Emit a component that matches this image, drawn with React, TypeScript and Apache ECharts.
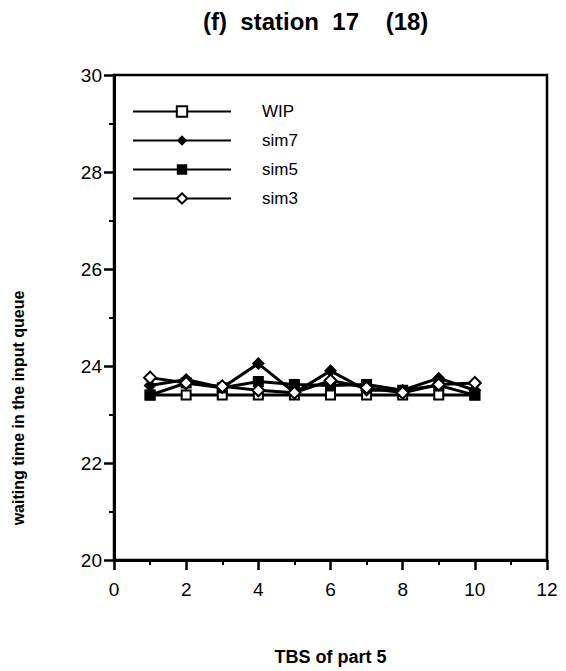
import React, { useEffect, useRef } from "react";
import * as echarts from "echarts";

const xValues = [1, 2, 3, 4, 5, 6, 7, 8, 9, 10];
const wip = [23.4, 23.4, 23.4, 23.4, 23.4, 23.4, 23.4, 23.4, 23.4, 23.4];
const sim7 = [23.6, 23.72, 23.55, 24.05, 23.45, 23.9, 23.5, 23.5, 23.75, 23.5];
const sim5 = [23.4, 23.65, 23.55, 23.68, 23.62, 23.6, 23.62, 23.5, 23.6, 23.4];
const sim3 = [23.76, 23.65, 23.58, 23.5, 23.45, 23.7, 23.55, 23.45, 23.62, 23.65];
const seriesNames = ["WIP", "sim7", "sim5", "sim3"];

const titleText = "(f)  station  17    (18)";
const xName = "TBS of part 5";
const yName = "waiting time in the input queue";

const pair = (ys: number[]) => xValues.map((x, i) => [x, ys[i]]);

export default function App() {
  const ref = useRef<HTMLDivElement>(null);
  useEffect(() => {
    document.body.style.margin = "0";
    const chart = echarts.init(ref.current!, undefined, { renderer: "svg" });
    const font = "'Liberation Sans', Arial, sans-serif";
    const lineStyle = { color: "#000", width: 3 };
    const mk = (name: string, data: number[], symbol: string, size: number, open: boolean, z: number) => ({
      name,
      type: "line",
      data: pair(data),
      symbol,
      symbolSize: size,
      showSymbol: true,
      lineStyle,
      z,
      itemStyle: {
        color: open ? "#fff" : "#000",
        borderColor: "#000",
        borderWidth: open ? 2 : 0,
      },
    });
    chart.setOption({
      animation: false,
      backgroundColor: "#fff",
      grid: {
        left: 114,
        right: 19,
        top: 75,
        bottom: 109,
        show: true,
        borderColor: "#000",
        borderWidth: 2.5,
      },
      legend: {
        left: 127,
        top: 98,
        orient: "vertical",
        itemWidth: 98,
        itemHeight: 13,
        itemGap: 12,
        data: seriesNames,
        textStyle: {
          fontFamily: font,
          fontSize: 17,
          color: "#000",
          padding: [0, 0, 0, 26],
        },
      },
      xAxis: {
        type: "value",
        min: 0,
        max: 12,
        interval: 2,
        name: xName,
        nameLocation: "middle",
        nameGap: 88,
        nameTextStyle: { fontFamily: font, fontSize: 18, fontWeight: "bold", color: "#000" },
        axisLine: { lineStyle: { color: "#000", width: 3 } },
        axisTick: { inside: false, length: 10, lineStyle: { color: "#000", width: 2.5 } },
        minorTick: { show: true, splitNumber: 2, length: 5, lineStyle: { color: "#000", width: 2 } },
        axisLabel: { fontFamily: font, fontSize: 19, color: "#000", margin: 20 },
        splitLine: { show: false },
      },
      yAxis: {
        type: "value",
        min: 20,
        max: 30,
        interval: 2,
        axisLine: { show: true, lineStyle: { color: "#000", width: 3 } },
        axisTick: { show: true, inside: false, length: 10, lineStyle: { color: "#000", width: 2.5 } },
        minorTick: { show: true, splitNumber: 2, length: 5, lineStyle: { color: "#000", width: 2 } },
        axisLabel: { fontFamily: font, fontSize: 19, color: "#000", margin: 12 },
        splitLine: { show: false },
      },
      graphic: [
        {
          type: "text",
          left: 203,
          top: 9,
          style: {
            text: titleText,
            font: `bold 24px ${font}`,
            fill: "#000",
          },
        },
        {
          type: "text",
          x: 18,
          y: 408,
          rotation: Math.PI / 2,
          style: {
            text: yName,
            font: `bold 16px ${font}`,
            fill: "#000",
            align: "center",
            verticalAlign: "middle",
          },
        },
      ],
      series: [
        mk("WIP", wip, "rect", 9, true, 2),
        mk("sim7", sim7, "diamond", 13, false, 3),
        mk("sim5", sim5, "rect", 11, false, 4),
        mk("sim3", sim3, "diamond", 12, true, 5),
      ],
    });
    return () => chart.dispose();
  }, []);
  return <div ref={ref} style={{ width: 566, height: 671 }} />;
}
